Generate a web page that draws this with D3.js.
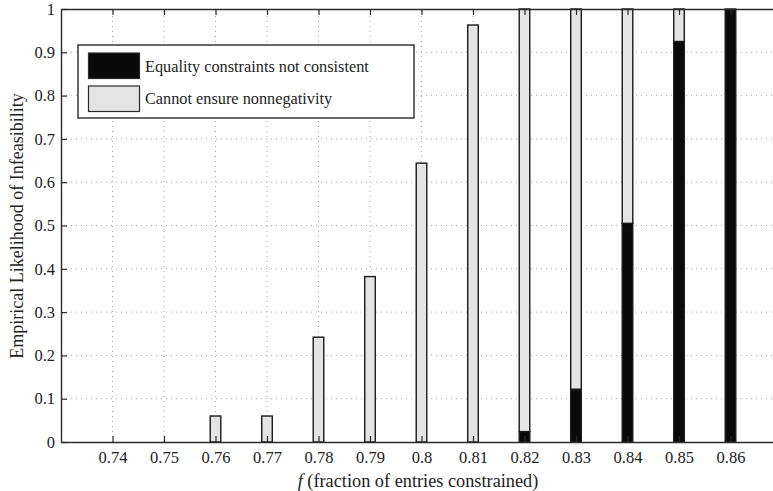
<!DOCTYPE html>
<html>
<head>
<meta charset="utf-8">
<script src="https://cdn.jsdelivr.net/npm/d3@7"></script>
<style>
  html, body { margin: 0; padding: 0; background: #fff; }
  svg { display: block; }
  text { font-family: "Liberation Serif", "DejaVu Serif", serif; fill: #222; }
</style>
</head>
<body>
<svg id="chart" width="773" height="491"></svg>
<script>
// Fraction of entries constrained (x positions of the bars)
const fractions = [0.74, 0.75, 0.76, 0.77, 0.78, 0.79, 0.80, 0.81, 0.82, 0.83, 0.84, 0.85, 0.86];
// Likelihood that the equality constraints are inconsistent (bottom segment)
const equalityInconsistent = [0, 0, 0, 0, 0, 0, 0, 0, 0.024, 0.122, 0.505, 0.925, 1.0];
// Likelihood that nonnegativity cannot be ensured (stacked on top)
const nonnegativityFail = [0, 0, 0.06, 0.06, 0.242, 0.382, 0.644, 0.963, 0.976, 0.878, 0.495, 0.075, 0];
const xTickLabels = ["0.74", "0.75", "0.76", "0.77", "0.78", "0.79", "0.8", "0.81", "0.82", "0.83", "0.84", "0.85", "0.86"];
const yTickValues = [0, 0.1, 0.2, 0.3, 0.4, 0.5, 0.6, 0.7, 0.8, 0.9, 1];
const seriesNames = ["Equality constraints not consistent", "Cannot ensure nonnegativity"];

const svg = d3.select("#chart");
const margin = { left: 61, right: -9, top: 9, bottom: 49 };
const W = 773, H = 491;
const plotW = W - margin.left - margin.right;
const plotH = H - margin.top - margin.bottom;

const x = d3.scaleLinear().domain([0.73, 0.87]).range([margin.left, margin.left + plotW]);
const y = d3.scaleLinear().domain([0, 1]).range([margin.top + plotH, margin.top]);

const colors = { eq: "#0a0a0a", nn: "#e4e4e4" };
const barW = (x(0.75) - x(0.74)) * 0.205;

// dotted grid
const grid = svg.append("g");
grid.selectAll("line.gx").data(fractions).join("line")
  .attr("x1", d => x(d)).attr("x2", d => x(d))
  .attr("y1", y(0)).attr("y2", y(1))
  .attr("stroke", "#a8a8a8").attr("stroke-width", 1)
  .attr("stroke-dasharray", "1,4");
grid.selectAll("line.gy").data(yTickValues.slice(1, -1)).join("line")
  .attr("x1", x(0.73)).attr("x2", x(0.87))
  .attr("y1", d => y(d)).attr("y2", d => y(d))
  .attr("stroke", "#a8a8a8").attr("stroke-width", 1)
  .attr("stroke-dasharray", "1,4");

// stacked bars
const rows = fractions.map((f, i) => ({ f, eq: equalityInconsistent[i], nn: nonnegativityFail[i] }));
const stack = d3.stack().keys(["eq", "nn"])(rows);
const bars = svg.append("g");
stack.forEach(layer => {
  bars.selectAll(null).data(layer.filter(d => d[1] - d[0] > 0)).join("rect")
    .attr("x", d => x(d.data.f) - barW / 2)
    .attr("width", barW)
    .attr("y", d => y(d[1]))
    .attr("height", d => y(d[0]) - y(d[1]))
    .attr("fill", colors[layer.key])
    .attr("stroke", "#1a1a1a")
    .attr("stroke-width", 1.4);
});

// axes (ticks point inward)
const xAxis = d3.axisBottom(x).tickValues(fractions)
  .tickFormat((d, i) => xTickLabels[i]).tickSizeInner(-6).tickSizeOuter(0);
const gx = svg.append("g").attr("transform", `translate(0,${y(0)})`).call(xAxis);
gx.selectAll(".tick text").attr("y", 21).attr("dy", 0);
const xTop = d3.axisTop(x).tickValues(fractions).tickFormat("").tickSizeInner(-6).tickSizeOuter(0);
const gxt = svg.append("g").attr("transform", `translate(0,${y(1)})`).call(xTop);
const yAxis = d3.axisLeft(y).tickValues(yTickValues)
  .tickFormat(d => d3.format("")(d)).tickSizeInner(-6).tickSizeOuter(0).tickPadding(6);
const gy = svg.append("g").attr("transform", `translate(${x(0.73)},0)`).call(yAxis);

[gx, gxt, gy].forEach(g => {
  g.select(".domain").attr("stroke", "#2a2a2a").attr("stroke-width", 1.4);
  g.selectAll(".tick line").attr("stroke", "#2a2a2a").attr("stroke-width", 1.2);
  g.selectAll(".tick text").attr("font-size", 16.5)
    .attr("font-family", "Liberation Serif, DejaVu Serif, serif").attr("fill", "#222");
});

// axis titles
const xt = svg.append("text").attr("x", 418).attr("y", 487).attr("text-anchor", "middle").attr("font-size", 18.3);
xt.append("tspan").attr("font-style", "italic").text("f");
xt.append("tspan").text(" (fraction of entries constrained)");
svg.append("text").attr("transform", `translate(23,226) rotate(-90)`)
  .attr("text-anchor", "middle").attr("font-size", 18)
  .text("Empirical Likelihood of Infeasibility");

// legend
const lg = svg.append("g");
lg.append("rect").attr("x", 78).attr("y", 45).attr("width", 336).attr("height", 73)
  .attr("fill", "#fff").attr("stroke", "#2a2a2a").attr("stroke-width", 1.4);
const items = [{ name: seriesNames[0], color: colors.eq }, { name: seriesNames[1], color: colors.nn }];
items.forEach((it, i) => {
  lg.append("rect").attr("x", 88.5).attr("y", 53 + i * 33).attr("width", 51).attr("height", 25.5)
    .attr("fill", it.color).attr("stroke", "#2a2a2a").attr("stroke-width", 1.2);
  lg.append("text").attr("x", 145).attr("y", 72 + i * 32).attr("font-size", 16.3).text(it.name);
});
</script>
</body>
</html>
